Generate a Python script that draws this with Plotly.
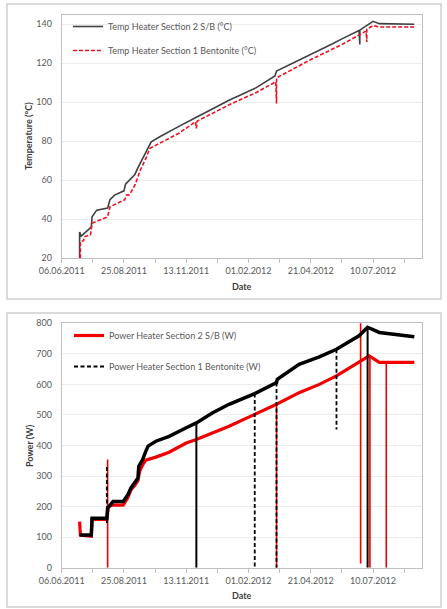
import plotly.graph_objects as go

# ---------------- data ----------------
# Temperature Heater Section 2 S/B (°C)
temp_s2_dates = ["2011-06-29", "2011-06-29", "2011-07-01", "2011-07-12", "2011-07-14", "2011-07-15",
                 "2011-07-21", "2011-08-04", "2011-08-05", "2011-08-07", "2011-08-13", "2011-08-25",
                 "2011-08-27", "2011-09-03", "2011-09-08", "2011-09-12", "2011-09-16", "2011-09-20",
                 "2011-09-25", "2011-09-29", "2011-10-10", "2011-10-22", "2011-11-03", "2011-11-26",
                 "2012-01-07", "2012-02-11", "2012-03-06", "2012-03-08", "2012-04-19", "2012-05-19",
                 "2012-05-31", "2012-06-22", "2012-06-23", "2012-06-23", "2012-07-10", "2012-07-18",
                 "2012-09-01"]
temp_s2_vals = [20, 33.5, 31.4, 35.5, 36, 41.3,
                44.7, 45.8, 47, 50, 52.4, 54.6,
                58, 61, 63, 66.5, 69.5, 72.9,
                77, 79.7, 82.3, 85, 87.5, 92.3,
                101, 107.5, 113.5, 116, 124, 130,
                132.5, 136.8, 129.6, 137, 141.5, 140.3,
                140]

# Temperature Heater Section 1 Bentonite (°C)
temp_s1_dates = ["2011-06-30", "2011-06-30", "2011-07-04", "2011-07-05", "2011-07-13", "2011-07-15",
                 "2011-08-04", "2011-08-05", "2011-08-07", "2011-08-26", "2011-08-28", "2011-09-01",
                 "2011-09-08", "2011-09-12", "2011-09-14", "2011-09-18", "2011-09-23", "2011-09-27",
                 "2011-10-05", "2011-10-18", "2011-11-03", "2011-11-25", "2011-11-26", "2011-11-27",
                 "2012-01-07", "2012-02-11", "2012-03-07", "2012-03-08", "2012-03-08", "2012-04-19",
                 "2012-05-19", "2012-05-31", "2012-06-22", "2012-07-01", "2012-07-02", "2012-07-02",
                 "2012-07-10", "2012-07-18", "2012-09-01"]
temp_s1_vals = [20, 28.5, 29, 31, 32, 38,
                41.3, 43, 46.4, 50, 52.4, 52.5,
                57.5, 61.8, 64.3, 67.8, 72, 76.3,
                78, 80.6, 84, 90, 86.6, 90.3,
                98.7, 105, 110.5, 99.4, 112.5, 121.5,
                127.5, 129.6, 134.5, 136.5, 130.9, 137.5,
                139.3, 138.6, 138.6]

# Power Heater Section 2 S/B (W)
power_s2_dates = ["2011-06-29", "2011-06-30", "2011-07-14", "2011-07-15", "2011-08-03", "2011-08-05",
                  "2011-08-11", "2011-08-24", "2011-08-30", "2011-09-03", "2011-09-08", "2011-09-12",
                  "2011-09-14", "2011-09-18", "2011-09-22", "2011-10-05", "2011-10-22", "2011-11-13",
                  "2011-11-26", "2012-01-07", "2012-02-09", "2012-03-08", "2012-04-06", "2012-05-02",
                  "2012-05-24", "2012-06-22", "2012-07-05", "2012-07-18", "2012-09-01"]
power_s2_vals = [151, 107, 103, 158, 158, 200,
                 205, 205, 230, 255, 270, 285,
                 315, 337, 352, 362, 378, 408,
                 420, 463, 502, 535, 573, 600,
                 628, 672, 693, 672, 672]

# Power Heater Section 1 Bentonite (W)
power_s1_dates = ["2011-06-29", "2011-07-14", "2011-07-15", "2011-08-03", "2011-08-04", "2011-08-11",
                  "2011-08-24", "2011-08-30", "2011-09-03", "2011-09-08", "2011-09-12", "2011-09-13",
                  "2011-09-18", "2011-09-22", "2011-09-25", "2011-10-05", "2011-10-22", "2011-11-13",
                  "2011-11-26", "2011-12-17", "2012-01-07", "2012-02-09", "2012-03-08", "2012-03-09",
                  "2012-04-06", "2012-05-02", "2012-05-24", "2012-06-22", "2012-07-03", "2012-07-18",
                  "2012-09-01"]
power_s1_vals = [107, 107, 162, 162, 195, 217,
                 217, 239, 261, 277, 294, 332,
                 354, 381, 398, 414, 430, 458,
                 474, 507, 535, 570, 606, 617,
                 666, 690, 715, 759, 787, 770,
                 756]

# short outages (vertical drops) in the power records
power_s2_drop_dates = ["2011-08-04", "2012-03-08", "2012-06-24", "2012-07-06", "2012-07-27"]
power_s2_drop_top = [354, 535, 830, 693, 672]
power_s2_drop_bottom = [0, 0, 14, 0, 0]

power_s1_dash_drop_dates = ["2011-08-03", "2012-02-09", "2012-03-08", "2012-05-24"]
power_s1_dash_drop_top = [330, 570, 606, 715]
power_s1_dash_drop_bottom = [140, 0, 0, 452]

power_s1_solid_drop_dates = ["2011-11-26", "2012-07-03"]
power_s1_solid_drop_top = [474, 787]
power_s1_solid_drop_bottom = [0, 0]

# axes
tick_dates = ["2011-06-06", "2011-08-25", "2011-11-13", "2012-02-01", "2012-04-21", "2012-07-10"]
tick_labels = ["06.06.2011", "25.08.2011", "13.11.2011", "01.02.2012", "21.04.2012", "10.07.2012"]
minor_tick_dates = ["2011-07-16", "2011-10-04", "2011-12-23", "2012-03-12", "2012-05-31", "2012-08-20"]
x_range = ["2011-06-06", "2012-09-10 12:00"]
temp_ticks = [20, 40, 60, 80, 100, 120, 140]
temp_range = [20, 145]
power_ticks = [0, 100, 200, 300, 400, 500, 600, 700, 800]
power_range = [0, 800]

# ---------------- figure ----------------
W, H = 447, 609
FONT = "Lato, 'Open Sans', sans-serif"
TXT = "#595959"

def px(x):
    return x / W

def py(y):
    return 1 - y / H

def segs(dates, tops, bottoms):
    xs, ys = [], []
    for d, t, b in zip(dates, tops, bottoms):
        xs += [d, d, None]
        ys += [t, b, None]
    return xs, ys

RED_T = "#ee1122"
RED_P = "#f00000"
GRAY = "#404040"
BLACK = "#000000"

fig = go.Figure()

# top chart
fig.add_trace(go.Scatter(x=temp_s2_dates, y=temp_s2_vals, mode="lines",
                         name="Temp Heater Section 2 S/B (°C)",
                         line=dict(color=GRAY, width=1.6),
                         xaxis="x", yaxis="y", legend="legend", legendgroup="a"))
fig.add_trace(go.Scatter(x=temp_s1_dates, y=temp_s1_vals, mode="lines",
                         name="Temp Heater Section 1 Bentonite (°C)",
                         line=dict(color=RED_T, width=1.6, dash="4px,2px"),
                         xaxis="x", yaxis="y", legend="legend", legendgroup="b"))

# bottom chart
fig.add_trace(go.Scatter(x=power_s2_dates, y=power_s2_vals, mode="lines",
                         name="Power Heater Section 2 S/B (W)",
                         line=dict(color=RED_P, width=3.2),
                         xaxis="x2", yaxis="y2", legend="legend2", legendgroup="c",
                         legendrank=1))
dx, dy = segs(power_s2_drop_dates, power_s2_drop_top, power_s2_drop_bottom)
fig.add_trace(go.Scatter(x=dx, y=dy, mode="lines", showlegend=False,
                         line=dict(color=RED_P, width=1.6),
                         xaxis="x2", yaxis="y2", legendgroup="c"))
fig.add_trace(go.Scatter(x=power_s1_dates, y=power_s1_vals, mode="lines",
                         showlegend=False, name="Power Heater Section 1 Bentonite (W)",
                         line=dict(color=BLACK, width=3.5),
                         xaxis="x2", yaxis="y2", legendgroup="d"))
dx, dy = segs(power_s1_solid_drop_dates, power_s1_solid_drop_top, power_s1_solid_drop_bottom)
fig.add_trace(go.Scatter(x=dx, y=dy, mode="lines", showlegend=False,
                         line=dict(color=BLACK, width=2),
                         xaxis="x2", yaxis="y2", legendgroup="d"))
dx, dy = segs(power_s1_dash_drop_dates, power_s1_dash_drop_top, power_s1_dash_drop_bottom)
fig.add_trace(go.Scatter(x=dx, y=dy, mode="lines",
                         name="Power Heater Section 1 Bentonite (W)",
                         line=dict(color=BLACK, width=1.8, dash="4px,2.5px"),
                         xaxis="x2", yaxis="y2", legend="legend2", legendgroup="d",
                         legendrank=2))

xdom = [px(61.7), px(421.7)]
common_x = dict(type="date", range=x_range, tickmode="array", tickvals=tick_dates,
                ticktext=tick_labels, ticks="outside", ticklen=4, tickcolor="#bfbfbf",
                showline=True, linecolor="#bfbfbf", linewidth=1, mirror=True,
                showgrid=False, zeroline=False, domain=xdom, automargin=False,
                tickfont=dict(family=FONT, size=9, color=TXT),
                minor=dict(tickmode="array", tickvals=minor_tick_dates, ticks="outside",
                           ticklen=4, tickcolor="#bfbfbf", showgrid=False))
common_y = dict(tickmode="array", showline=True, linecolor="#bfbfbf", linewidth=1,
                mirror=True, showgrid=True, gridcolor="#ececec", zeroline=False,
                ticks="", ticklabelstandoff=7, automargin=False,
                tickfont=dict(family=FONT, size=9, color=TXT))

ann_font = dict(family=FONT, size=9, color="#404040")

fig.update_layout(
    width=W, height=H, margin=dict(l=0, r=0, t=0, b=0, autoexpand=False),
    paper_bgcolor="white", plot_bgcolor="white",
    xaxis=dict(anchor="y", **common_x),
    yaxis=dict(anchor="x", domain=[py(258.3), py(14.5)], range=temp_range,
               tickvals=temp_ticks, **common_y),
    xaxis2=dict(anchor="y2", **common_x),
    yaxis2=dict(anchor="x2", domain=[py(567.7), py(323.3)], range=power_range,
                tickvals=power_ticks, **common_y),
    legend=dict(x=px(68), y=py(12), xanchor="left", yanchor="top",
                bgcolor="rgba(0,0,0,0)", tracegroupgap=5,
                font=dict(family=FONT, size=9, color=TXT)),
    legend2=dict(x=px(69), y=py(321), xanchor="left", yanchor="top",
                 bgcolor="rgba(0,0,0,0)", tracegroupgap=12,
                 font=dict(family=FONT, size=9, color=TXT)),
    shapes=[
        dict(type="rect", xref="paper", yref="paper", x0=px(7), x1=px(441),
             y0=py(299), y1=py(4), line=dict(color="#d0d0d0", width=1.5), layer="below"),
        dict(type="rect", xref="paper", yref="paper", x0=px(7), x1=px(441),
             y0=py(607), y1=py(313), line=dict(color="#d0d0d0", width=1.5), layer="below"),
    ],
    annotations=[
        dict(text="<b>Temperature (°C)</b>", x=px(29), y=py(136), xref="paper", yref="paper",
             xanchor="center", yanchor="middle", textangle=-90, showarrow=False, font=ann_font),
        dict(text="<b>Date</b>", x=px(241.7), y=py(286), xref="paper", yref="paper",
             xanchor="center", yanchor="middle", showarrow=False, font=ann_font),
        dict(text="<b>Power (W)</b>", x=px(29), y=py(445), xref="paper", yref="paper",
             xanchor="center", yanchor="middle", textangle=-90, showarrow=False, font=ann_font),
        dict(text="<b>Date</b>", x=px(241.7), y=py(595), xref="paper", yref="paper",
             xanchor="center", yanchor="middle", showarrow=False, font=ann_font),
    ],
)

fig.write_html("out.html", config={"displayModeBar": False},
               post_script="document.body.style.margin='0';document.body.style.overflow='hidden';")
